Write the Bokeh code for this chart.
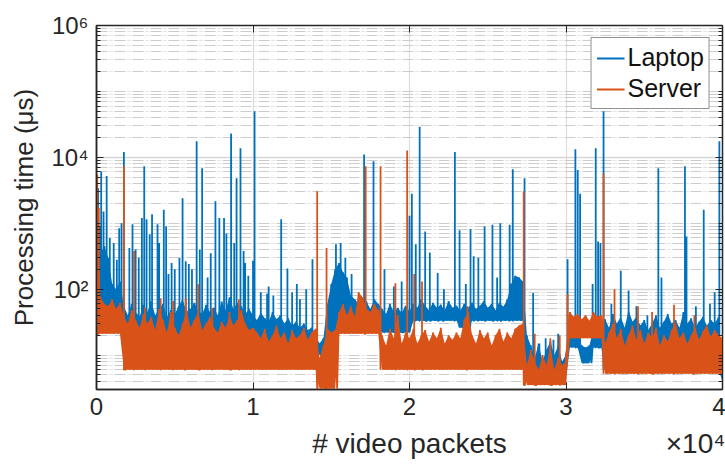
import math

from bokeh.embed import file_html
from bokeh.models import FixedTicker, LinearAxis, LogAxis, Range1d
from bokeh.plotting import figure
from bokeh.resources import INLINE

# ---------------------------------------------------------------------------
# Data: per-packet processing time (microseconds), 0 .. 40 000 video packets.
# Each trace is described by a dense band (flat floor per segment + jagged
# upper edge sampled every STEP packets) and a list of isolated spikes.
# ---------------------------------------------------------------------------
STEP = 250

LAPTOP_TOP = [
    2000, 350, 450, 300, 120, 100, 130,
    55, 40, 60, 45, 38, 58, 45, 65, 40, 50,
    60, 38, 48, 42, 55, 70, 45, 50, 62, 48,
    42, 58, 45, 52, 40, 65, 48, 75, 50, 62,
    55, 42, 50, 40, 34, 44, 36, 32, 45, 35,
    40, 30, 36, 28, 32, 26, 30, 24, 26, 20,
    15, 18, 60, 120, 200,
    250, 180, 150, 80, 70, 60, 55, 65, 50, 70, 60,
    50, 42, 60, 45, 52, 44, 56, 46,
    60, 52, 70, 56, 48, 62, 52, 58, 48, 66,
    52, 56, 48, 60, 52, 62, 50, 56, 66, 52,
    60, 48, 62, 54, 70, 120, 160, 150, 130,
    20, 14, 9, 15, 8, 12, 16, 10, 14, 8, 10,
    25, 30, 22, 14, 13, 14, 25, 28, 30,
    35, 26, 42, 30, 38, 26, 48, 32, 38, 28,
    34, 24, 30, 40, 26, 32, 42, 30, 34, 26,
    45, 30, 36, 26, 32, 38, 28, 34, 30, 38,
    5,
]

SERVER_TOP = [
    1700, 75, 60, 55, 70, 50, 62,
    38, 30, 48, 34, 26, 42, 30, 38, 24, 50,
    34, 22, 45, 26, 20, 30, 48, 26, 34, 45,
    24, 30, 38, 26, 22, 32, 26, 40, 28, 34,
    48, 30, 24, 26, 22, 18, 25, 16, 20, 28,
    18, 22, 15, 24, 18, 20, 26, 17, 22, 25,
    9, 14, 25, 22, 24,
    45, 60, 40, 55, 38, 90, 75, 50, 45, 60, 48,
    20, 14, 25, 18, 40, 15, 22, 18,
    25, 15, 20, 24, 16, 22, 18, 26, 15, 20,
    17, 22, 18, 35, 45, 20, 15, 24, 18, 22,
    14, 20, 25, 16, 22, 18, 25, 28, 30,
    7, 12, 8, 6, 10, 7, 14, 6, 9, 7, 8,
    45, 38, 42, 35, 40, 33, 45, 38, 40,
    15, 22, 30, 18, 25, 14, 20, 28, 17, 24,
    15, 22, 18, 26, 14, 20, 16, 24, 30, 18,
    22, 15, 20, 26, 17, 23, 28, 19, 24, 20,
    18,
]

LAPTOP_SEG_START = [0, 1750, 14050, 15450, 18150, 20050, 23200, 23900,
                    27300, 30050, 31000, 31700, 32400, 39900]
LAPTOP_SEG_FLOOR = [30, 13, 10, 25, 22, 33, 26, 33,
                    4.5, 13, 7.5, 13, 6, 4]

SERVER_SEG_START = [0, 1750, 14050, 15450, 18150, 27300, 30050, 32400]
SERVER_SEG_FLOOR = [21, 6.0, 3.1, 21, 6.0, 3.5, 18, 5.2]

LAPTOP_SPIKE_X = [100, 200, 300, 450, 650, 850, 1100, 1300, 1450, 1600, 1750,
                  2100, 2300, 2500, 2700, 2900, 3050, 3200, 3400, 3550, 3900,
                  4000, 4300, 4450, 4600, 4800, 5000, 5300, 5500, 5700, 5900,
                  6100, 6400, 6600, 6750, 7100, 7300, 7600, 7850, 8150, 8300,
                  8600, 8800, 8950, 9200, 9400, 9500, 9700, 10000, 10100,
                  10500, 10900, 11000, 11300, 11800, 12200, 12500, 12800,
                  13000, 13400, 13800,
                  15300, 15600, 15900, 16300, 17100, 17700, 18400, 19000,
                  19500, 20000, 20150, 20400, 20650, 21000, 21300, 21800,
                  22200, 22900, 23200, 23600, 23900, 24100, 24400, 24800,
                  25300, 25600, 25800, 26400, 26600, 27350,
                  27900, 28300, 28700, 29200, 29500,
                  30100, 30600, 30750, 30900, 31700, 31900, 32050, 32200, 32400,
                  32900, 33500, 34000, 34500, 35200, 35900, 36100, 37600,
                  37700, 38300, 38800, 39200, 39500, 39800]
LAPTOP_SPIKE_Y = [3400, 900, 6100, 1500, 5200, 600, 500, 280, 840, 1000, 12000,
                  420, 965, 400, 300, 1200, 7300, 1150, 680, 1370, 965,
                  500, 1600, 900, 170, 250, 200, 300, 2400, 265, 240,
                  200, 17500, 400, 6800, 150, 350, 2150, 1200, 1200, 700,
                  23000, 500, 4800, 13700, 380, 250, 160, 270, 50000,
                  90, 85, 110, 80, 1150, 205, 90, 120,
                  70, 100, 285,
                  480, 500, 300, 170, 11000, 8700, 200, 110,
                  130, 1300, 2800, 480, 29000, 750, 360, 175,
                  100, 12000, 780, 120, 820, 316, 300, 900,
                  950, 150, 1000, 950, 6600, 4800,
                  87, 15, 18, 17, 21,
                  285, 13300, 6400, 2800, 120, 13700, 530, 500, 50000,
                  60, 190, 95, 55, 40, 6800, 150, 7300,
                  630, 55, 1600, 60, 90, 17500]

SERVER_SPIKE_X = [50, 150, 1750, 2400, 3100, 4100, 4900, 5700, 6500, 7400,
                  8500, 9100, 14100, 14700, 17200, 18150, 19100, 19850,
                  20300, 20800, 23700, 27300, 28000, 29000, 29600, 30100,
                  32400, 33100, 34600, 35500, 36900, 38200]
SERVER_SPIKE_Y = [5500, 1700, 7300, 380, 52, 73, 66, 73, 119, 52,
                  45, 70, 3050, 420, 7300, 7300, 123, 12700,
                  170, 130, 55, 3050, 21, 18, 20, 84,
                  5700, 100, 55, 45, 58, 40]

X_TICKS = [0, 10000, 20000, 30000, 40000]
X_TICK_LABELS = ["0", "1", "2", "3", "4"]
Y_MAJOR = [1e2, 1e4, 1e6]
Y_MAJOR_LABELS = ["10\u00b2", "10\u2074", "10\u2076"]

X_MIN, X_MAX = 0, 40000
Y_MIN, Y_MAX = 3, 1e6

BLUE = "#0072BD"
ORANGE = "#D95319"
INK = "#262626"
FONT = "Liberation Sans"

# Frame placement on the 725 x 468 canvas
W, H = 725, 468
F_L, F_R, F_T, F_B = 96, 722, 25, 389


def floor_at(x, starts, floors):
    level = floors[0]
    for s, f in zip(starts, floors):
        if x >= s:
            level = f
    return level


def band(top, starts, floors):
    xs = [i * STEP for i in range(len(top))]
    return xs, [floor_at(x, starts, floors) for x in xs], list(top)


def build_trace(top, starts, floors, spike_x, spike_y):
    """Band edge + spikes as one ordered polyline."""
    pts = []
    seq = 0
    for i, t in enumerate(top):
        x = i * STEP
        pts.append((x, seq, t))
        seq += 1
        if i < len(top) - 1:
            xm = x + STEP / 2
            pts.append((xm, seq, floor_at(xm, starts, floors)))
            seq += 1
    for sx, sy in zip(spike_x, spike_y):
        base = floor_at(sx, starts, floors)
        for y in (base, sy, base):
            pts.append((sx, seq, y))
            seq += 1
    pts.sort(key=lambda p: (p[0], p[1]))
    return [p[0] for p in pts], [p[2] for p in pts]


def xd(px):
    """Canvas pixel column -> packet index (used for text anchors)."""
    return X_MIN + (px - F_L) / (F_R - F_L) * (X_MAX - X_MIN)


p = figure(width=W, height=H, y_axis_type="log",
           x_range=Range1d(X_MIN, X_MAX), y_range=Range1d(Y_MIN, Y_MAX),
           output_backend="svg", toolbar_location=None,
           min_border_left=F_L, min_border_right=W - F_R,
           min_border_top=F_T, min_border_bottom=H - F_B)
p.background_fill_color = "white"
p.border_fill_color = "white"
p.outline_line_color = INK
p.outline_line_width = 1.5

# ticks
y_minor = []
for e in range(0, 6):
    for m in range(1, 10):
        v = m * 10 ** e
        if Y_MIN <= v <= Y_MAX and v not in Y_MAJOR:
            y_minor.append(v)
y_ticker = FixedTicker(ticks=Y_MAJOR, minor_ticks=y_minor)
x_ticker = FixedTicker(ticks=X_TICKS, minor_ticks=[])

# grid
p.xgrid.ticker = FixedTicker(ticks=X_TICKS[1:-1], minor_ticks=[])
p.xgrid.grid_line_color = "#dcdcdc"
p.xgrid.grid_line_width = 1.2
p.ygrid.ticker = y_ticker
p.ygrid.grid_line_color = "#d6d6d6"
p.ygrid.grid_line_width = 1.4
p.ygrid.minor_grid_line_color = "#cccccc"
p.ygrid.minor_grid_line_width = 1.2
p.ygrid.minor_grid_line_dash = "11 2 1 1 1 2"

# bottom axis
xa = p.xaxis[0]
xa.ticker = x_ticker
xa.major_label_overrides = {t: s for t, s in zip(X_TICKS, X_TICK_LABELS)}
xa.major_label_text_font = FONT
xa.major_label_text_font_size = "24px"
xa.major_label_text_color = INK
xa.major_label_standoff = 8
xa.major_tick_in = 7
xa.major_tick_out = 0
xa.axis_line_color = INK
xa.axis_line_width = 1.5
xa.major_tick_line_color = INK

# x title and exponent share one text row beneath the tick labels
TITLE_X = xd(409)
EXP_X = xd(695)
title_ax = LinearAxis(ticker=FixedTicker(ticks=[TITLE_X, EXP_X], minor_ticks=[]),
                      major_label_overrides={TITLE_X: "# video packets",
                                             EXP_X: "\u00d710\u2074"},
                      major_label_text_font=FONT,
                      major_label_text_font_size="28px",
                      major_label_text_color=INK,
                      major_label_standoff=10,
                      axis_line_color=None, major_tick_in=0, major_tick_out=0,
                      minor_tick_in=0, minor_tick_out=0)
p.add_layout(title_ax, "below")

# left axis
ya = p.yaxis[0]
ya.ticker = y_ticker
ya.major_label_overrides = {v: s for v, s in zip(Y_MAJOR, Y_MAJOR_LABELS)}
ya.major_label_text_font = FONT
ya.major_label_text_font_size = "24px"
ya.major_label_text_color = INK
ya.major_label_standoff = 8
ya.major_tick_in = 7
ya.major_tick_out = 0
ya.minor_tick_in = 4
ya.minor_tick_out = 0
ya.axis_line_color = INK
ya.axis_line_width = 1.5
ya.major_tick_line_color = INK
ya.minor_tick_line_color = INK
ya.axis_label = "Processing time (\u03bcs)"
ya.axis_label_text_font = FONT
ya.axis_label_text_font_size = "26px"
ya.axis_label_text_font_style = "normal"
ya.axis_label_text_color = INK
ya.axis_label_standoff = 9

# mirrored ticks on top and right
top_ax = LinearAxis(ticker=x_ticker,
                    major_label_overrides={t: "" for t in X_TICKS},
                    major_label_standoff=0, major_tick_in=7, major_tick_out=0,
                    minor_tick_in=0, minor_tick_out=0, axis_line_color=INK,
                    major_tick_line_color=INK)
right_ax = LogAxis(ticker=y_ticker,
                   major_label_overrides={v: "" for v in Y_MAJOR},
                   major_label_standoff=0, major_tick_in=7, major_tick_out=0,
                   minor_tick_in=4, minor_tick_out=0, axis_line_color=INK,
                   major_tick_line_color=INK, minor_tick_line_color=INK)
p.add_layout(top_ax, "above")
p.add_layout(right_ax, "right")

# traces: dense band fill + edge/spike line, laptop first, server on top
series = [
    ("Laptop", BLUE, LAPTOP_TOP, LAPTOP_SEG_START, LAPTOP_SEG_FLOOR,
     LAPTOP_SPIKE_X, LAPTOP_SPIKE_Y),
    ("Server", ORANGE, SERVER_TOP, SERVER_SEG_START, SERVER_SEG_FLOOR,
     SERVER_SPIKE_X, SERVER_SPIKE_Y),
]
for name, color, top, starts, floors, spx, spy in series:
    bx, blo, bhi = band(top, starts, floors)
    p.varea(x=bx, y1=blo, y2=bhi, fill_color=color, fill_alpha=1.0)
    tx, ty = build_trace(top, starts, floors, spx, spy)
    p.line(tx, ty, line_color=color, line_width=1.8, legend_label=name)

lg = p.legend[0]
lg.location = "top_right"
lg.margin = 12
lg.padding = 5
lg.spacing = 2
lg.glyph_width = 28
lg.label_standoff = 3
lg.label_text_font = FONT
lg.label_text_font_size = "25px"
lg.label_text_color = "#111111"
lg.border_line_color = INK
lg.border_line_width = 1.5
lg.background_fill_color = "white"
lg.background_fill_alpha = 1.0

open("out.html", "w").write(file_html(p, INLINE))
